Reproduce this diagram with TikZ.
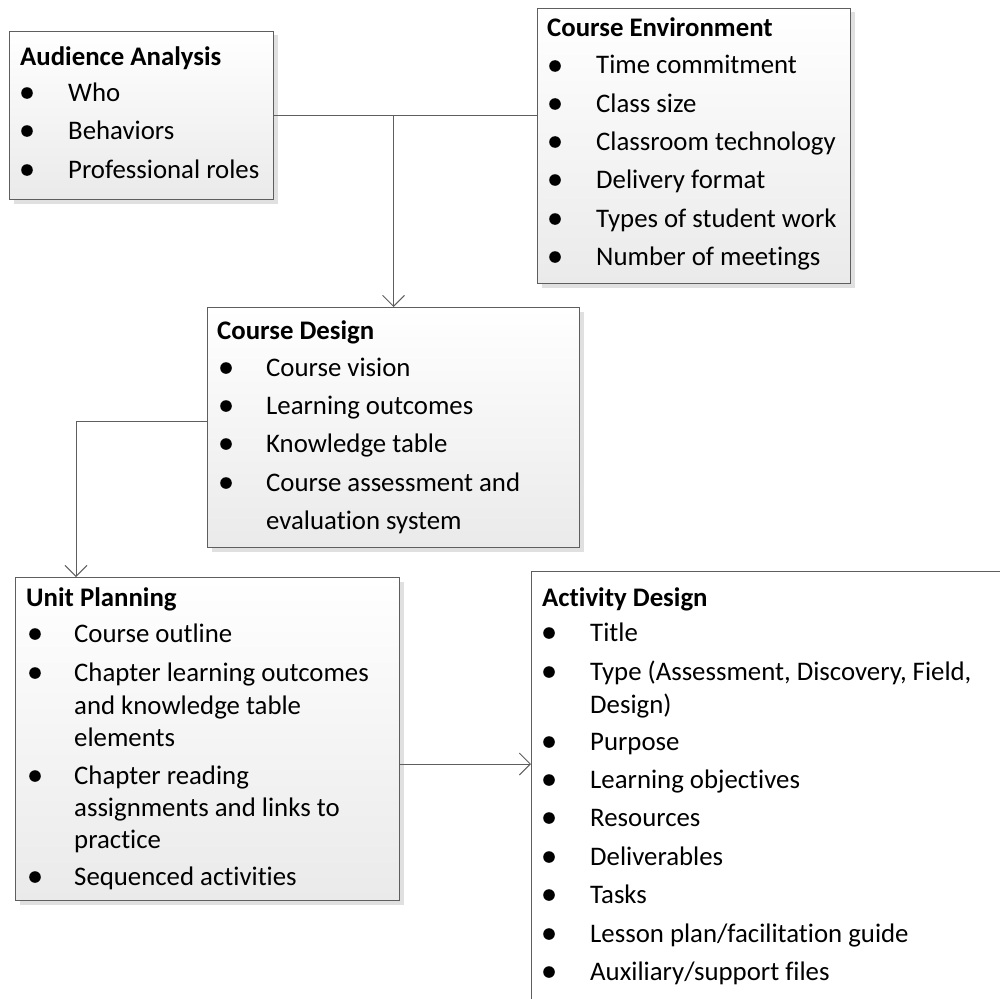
\documentclass[tikz,border=0pt]{standalone}
\usepackage{fontspec}
\setmainfont[Ligatures=NoCommon]{Carlito}
\usetikzlibrary{arrows.meta,shadows}

\definecolor{linegray}{HTML}{5E5E5E}
\definecolor{boxgray}{HTML}{EAEAEA}

\tikzset{
  box/.style={draw=linegray, line width=1pt, anchor=north west, inner sep=0pt,
    top color=white, bottom color=boxgray,
    drop shadow={shadow xshift=4pt, shadow yshift=-4pt, fill=black!12, opacity=1}},
  txt/.style={anchor=base west, inner sep=0pt, font=\fontsize{26.8}{30}\selectfont},
  head/.style={txt, font=\fontsize{26.8}{30}\selectfont\bfseries},
  link/.style={draw=linegray, line width=0.9pt, -{Straight Barb[length=11pt,width=22pt]}}
}

\begin{document}
\begin{tikzpicture}[x=1pt,y=-1pt]
      \useasboundingbox (0,0) rectangle (1000,998);
      % boxes
      \node[box, minimum width=264, minimum height=168] (aud) at (9,31) {};
      \node[box, minimum width=313, minimum height=275] (env) at (537,8) {};
      \node[box, minimum width=372, minimum height=240] (des) at (207,307) {};
      \node[box, minimum width=384, minimum height=323] (unit) at (15,577) {};
      \node[draw=linegray, line width=1pt, fill=white, anchor=north west, inner sep=0pt,
        minimum width=490, minimum height=450] (act) at (531,571) {};
      % audience analysis
      \node[head] (audt) at (20,66) {Audience Analysis};
      \foreach \y/\t in {101/Who, 139/Behaviors, 178/Professional roles} {
        \fill (27,\y-8) circle (5.8);
        \node[txt] at (68,\y) {\t};
      }
      % course environment
      \node[head] (envt) at (547,37) {Course Environment};
      \foreach \y/\t in {74/Time commitment, 112/Class size, 150/Classroom technology,
          188/Delivery format, 227/Types of student work, 265/Number of meetings} {
        \fill (555,\y-8) circle (5.8);
        \node[txt] at (596,\y) {\t};
      }
      % course design
      \node[head] (dest) at (217,339) {Course Design};
      \foreach \y in {376,414,452,491}
        \fill (226,\y-8) circle (5.8);
      \foreach \y/\t in {376/Course vision, 414/Learning outcomes, 452/Knowledge table,
          491/Course assessment and, 529/evaluation system}
        \node[txt] at (266,\y) {\t};
      % unit planning
      \node[head] (unitt) at (26,606) {Unit Planning};
      \foreach \y in {642,681,784,885}
        \fill (35,\y-8) circle (5.8);
      \foreach \y/\t in {642/Course outline, 681/Chapter learning outcomes,
          714/and knowledge table, 746/elements, 784/Chapter reading,
          816/assignments and links to, 848/practice, 885/Sequenced activities}
        \node[txt] at (74,\y) {\t};
      % activity design
      \node[head] (actt) at (542,606) {Activity Design};
      \foreach \y in {641,680,750,788,826,865,903,942,980}
        \fill (549,\y-8) circle (5.8);
      \foreach \y/\t in {641/Title, 680/{Type (Assessment, Discovery, Field,}, 713/Design),
          750/Purpose, 788/Learning objectives, 826/Resources, 865/Deliverables,
          903/Tasks, 942/{Lesson plan/facilitation guide}, 980/{Auxiliary/support files}}
        \node[txt] at (590,\y) {\t};
      % connectors
      \draw[draw=linegray, line width=0.9pt] (aud.east) -- (aud.east -| env.west);
      \draw[link] (aud.east -| des.north) -- (des.north);
      \draw[link] ([yshift=-114]des.north west) -| ([xshift=61]unit.north west);
      \draw[link] ([yshift=-187]unit.north east) -- ([yshift=-193]act.north west);
\end{tikzpicture}
\end{document}
